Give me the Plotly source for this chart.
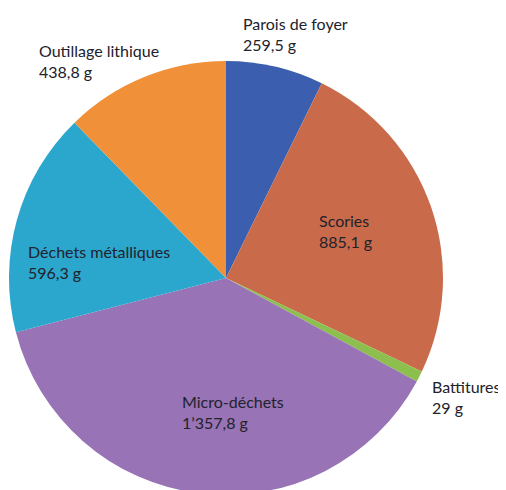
import plotly.graph_objects as go

# Data
categories = ["Parois de foyer", "Scories", "Battitures", "Micro-déchets",
              "Déchets métalliques", "Outillage lithique"]
weights_g = [259.5, 885.1, 29.0, 1357.8, 596.3, 438.8]
colors = ["#3b5fae", "#c96a4a", "#8dbf4e", "#9873b5", "#2ba6cd", "#f0913a"]

# Label positions in page pixels (left edge, vertical middle of the 2-line block)
label_px = [(242, 34), (318, 231), (431, 397), (181, 412), (27, 262), (38, 61)]

OFF = 8              # page offset of the plot div (body margin)
W, H = 498, 490      # figure size (bottom is cropped by the window, as in the reference)
CX, CY, R = 226 - OFF, 278 - OFF, 217


def fmt(v):
    if float(v).is_integer():
        s = f"{int(v):,}"
    else:
        s = f"{v:,.1f}"
    s = s.replace(",", "\u2019").replace(".", ",")
    return s + " g"


fig = go.Figure(go.Pie(
    labels=categories,
    values=weights_g,
    sort=False,
    direction="clockwise",
    rotation=0,
    marker=dict(colors=colors, line=dict(width=0)),
    textinfo="none",
    hoverinfo="label+value",
    showlegend=False,
    domain=dict(x=[(CX - R) / W, (CX + R) / W],
                y=[1 - (CY + R) / H, 1 - (CY - R) / H]),
))

for cat, v, (px, py) in zip(categories, weights_g, label_px):
    fig.add_annotation(
        x=(px - OFF) / W, y=1 - (py - OFF) / H, xref="paper", yref="paper",
        xanchor="left", yanchor="middle", align="left",
        text=f"{cat}<br>{fmt(v)}", showarrow=False, borderpad=0,
        font=dict(family="Lato", size=16, color="#22222c"),
    )

fig.update_layout(
    width=W, height=H,
    margin=dict(l=0, r=0, t=0, b=0),
    paper_bgcolor="white", plot_bgcolor="white",
)

fig.write_html("out.html")
